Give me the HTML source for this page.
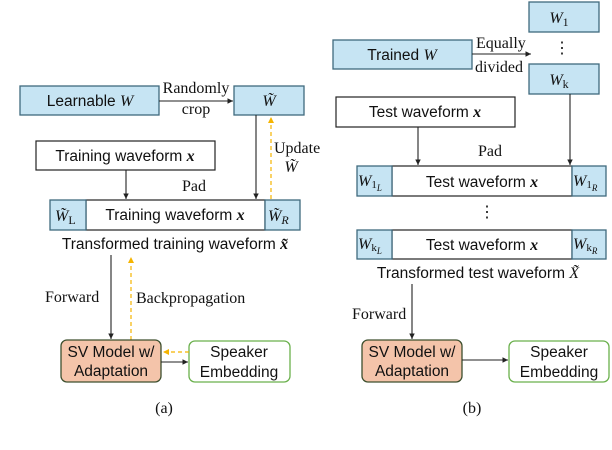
<!DOCTYPE html>
<html><head><meta charset="utf-8"><style>
html,body{margin:0;padding:0;background:#fff}
svg{display:block}
.s{font-family:"Liberation Sans",sans-serif;font-size:15.5px;fill:#111}
.r{font-family:"Liberation Serif",serif;font-size:16px;fill:#111}
.m{font-family:"Liberation Serif",serif;font-style:italic;font-size:16px;fill:#111}
.b{fill:#c6e4f3;stroke:#3f6a7e;stroke-width:1.3}
.w{fill:#fff;stroke:#222;stroke-width:1.2}
</style></head><body>
<svg width="612" height="450" viewBox="0 0 612 450" xmlns="http://www.w3.org/2000/svg">
<defs>
<marker id="a" markerWidth="6" markerHeight="6" refX="5" refY="3" orient="auto"><path d="M0,0.5 L5,3 L0,5.5z" fill="#222"/></marker>
<marker id="o" markerWidth="6" markerHeight="6" refX="5" refY="3" orient="auto"><path d="M0,0.5 L5,3 L0,5.5z" fill="#f5b400"/></marker>
</defs>
<!-- LEFT -->
<rect class="b" x="20" y="86" width="139" height="29"/>
<text class="s" x="90" y="106" text-anchor="middle">Learnable <tspan class="m">W</tspan></text>
<rect class="b" x="234" y="86" width="70" height="29"/>
<text class="m" x="269" y="106" text-anchor="middle">W̃</text>
<line x1="159" y1="101" x2="233" y2="101" stroke="#222" stroke-width="1.1" marker-end="url(#a)"/>
<text class="r" x="196" y="93" text-anchor="middle">Randomly</text>
<text class="r" x="196" y="114" text-anchor="middle">crop</text>
<rect class="w" x="36" y="141" width="179" height="29"/>
<text class="s" x="125" y="161" text-anchor="middle">Training waveform <tspan class="m" font-weight="bold">x</tspan></text>
<line x1="126" y1="170" x2="126" y2="199" stroke="#222" stroke-width="1.1" marker-end="url(#a)"/>
<line x1="256" y1="115" x2="256" y2="199" stroke="#222" stroke-width="1.1" marker-end="url(#a)"/>
<line x1="271" y1="199" x2="271" y2="117" stroke="#f5b400" stroke-width="1.2" stroke-dasharray="4,3" marker-end="url(#o)"/>
<text class="r" x="274" y="153">Update</text>
<text class="m" x="291" y="172" text-anchor="middle">W̃</text>
<text class="r" x="194" y="191" text-anchor="middle">Pad</text>
<rect class="w" x="86" y="200" width="179" height="30"/>
<rect class="b" x="50" y="200" width="36" height="30"/>
<rect class="b" x="265" y="200" width="35" height="30"/>
<text class="m" x="55" y="221">W̃<tspan font-style="normal" font-size="12" dy="3">L</tspan></text>
<text class="m" x="268" y="221">W̃<tspan font-size="12" dy="3">R</tspan></text>
<text class="s" x="175" y="220" text-anchor="middle">Training waveform <tspan class="m" font-weight="bold">x</tspan></text>
<text class="s" x="175" y="249" text-anchor="middle">Transformed training waveform <tspan class="m" font-weight="bold">x̃</tspan></text>
<line x1="111" y1="255" x2="111" y2="339" stroke="#222" stroke-width="1.1" marker-end="url(#a)"/>
<line x1="131" y1="340" x2="131" y2="257" stroke="#f5b400" stroke-width="1.2" stroke-dasharray="4,3" marker-end="url(#o)"/>
<text class="r" x="45" y="302">Forward</text>
<text class="r" x="136" y="303">Backpropagation</text>
<rect x="61" y="340" width="100" height="42" rx="6" fill="#f4c4aa" stroke="#3d4f2e" stroke-width="1.3"/>
<text class="s" x="111" y="357" text-anchor="middle">SV Model w/</text>
<text class="s" x="111" y="376" text-anchor="middle">Adaptation</text>
<rect x="189" y="341" width="101" height="41" rx="6" fill="#fff" stroke="#6ab04c" stroke-width="1.3"/>
<text class="s" x="239" y="357" text-anchor="middle" font-size="16.5">Speaker</text>
<text class="s" x="239" y="377" text-anchor="middle" font-size="16.5">Embedding</text>
<line x1="189" y1="352" x2="163" y2="352" stroke="#f5b400" stroke-width="1.2" stroke-dasharray="4,3" marker-end="url(#o)"/>
<line x1="161" y1="362" x2="188" y2="362" stroke="#222" stroke-width="1.1" marker-end="url(#a)"/>
<text class="r" x="164" y="413" text-anchor="middle">(a)</text>
<!-- RIGHT -->
<rect class="b" x="529" y="2" width="70" height="30"/>
<text class="m" x="559" y="23" text-anchor="middle">W<tspan font-style="normal" font-size="12" dy="3">1</tspan></text>
<text class="r" x="562" y="53" text-anchor="middle">⋮</text>
<rect class="b" x="529" y="64" width="70" height="30"/>
<text class="m" x="559" y="85" text-anchor="middle">W<tspan font-style="normal" font-size="12" dy="3">k</tspan></text>
<rect class="b" x="333" y="40" width="139" height="29"/>
<text class="s" x="402" y="60" text-anchor="middle">Trained <tspan class="m">W</tspan></text>
<line x1="472" y1="54" x2="531" y2="54" stroke="#222" stroke-width="1.1" marker-end="url(#a)"/>
<text class="r" x="476" y="48">Equally</text>
<text class="r" x="475" y="72">divided</text>
<rect class="w" x="336" y="97" width="179" height="30"/>
<text class="s" x="425" y="117" text-anchor="middle">Test waveform <tspan class="m" font-weight="bold">x</tspan></text>
<line x1="418" y1="127" x2="418" y2="165" stroke="#222" stroke-width="1.1" marker-end="url(#a)"/>
<line x1="570" y1="94" x2="570" y2="165" stroke="#222" stroke-width="1.1" marker-end="url(#a)"/>
<text class="r" x="490" y="156" text-anchor="middle">Pad</text>
<rect class="w" x="392" y="166" width="180" height="30"/>
<rect class="b" x="357" y="166" width="35" height="30"/>
<rect class="b" x="572" y="166" width="34" height="30"/>
<text class="m" x="358" y="186">W<tspan font-style="normal" font-size="11" dy="2">1</tspan><tspan font-size="9" dy="3">L</tspan></text>
<text class="m" x="573" y="186">W<tspan font-style="normal" font-size="11" dy="2">1</tspan><tspan font-size="9" dy="3">R</tspan></text>
<text class="s" x="482" y="187" text-anchor="middle">Test waveform <tspan class="m" font-weight="bold">x</tspan></text>
<text class="r" x="487" y="217" text-anchor="middle">⋮</text>
<rect class="w" x="392" y="230" width="180" height="29"/>
<rect class="b" x="357" y="230" width="35" height="29"/>
<rect class="b" x="572" y="230" width="34" height="29"/>
<text class="m" x="358" y="249">W<tspan font-style="normal" font-size="11" dy="2">k</tspan><tspan font-size="9" dy="3">L</tspan></text>
<text class="m" x="573" y="249">W<tspan font-style="normal" font-size="11" dy="2">k</tspan><tspan font-size="9" dy="3">R</tspan></text>
<text class="s" x="482" y="250" text-anchor="middle">Test waveform <tspan class="m" font-weight="bold">x</tspan></text>
<text class="s" x="478" y="278" text-anchor="middle">Transformed test waveform <tspan class="m">X̃</tspan></text>
<line x1="412" y1="284" x2="412" y2="339" stroke="#222" stroke-width="1.1" marker-end="url(#a)"/>
<text class="r" x="352" y="319">Forward</text>
<rect x="362" y="340" width="100" height="42" rx="6" fill="#f4c4aa" stroke="#3d4f2e" stroke-width="1.3"/>
<text class="s" x="412" y="357" text-anchor="middle">SV Model w/</text>
<text class="s" x="412" y="376" text-anchor="middle">Adaptation</text>
<rect x="509" y="341" width="100" height="41" rx="6" fill="#fff" stroke="#6ab04c" stroke-width="1.3"/>
<text class="s" x="559" y="357" text-anchor="middle" font-size="16.5">Speaker</text>
<text class="s" x="559" y="377" text-anchor="middle" font-size="16.5">Embedding</text>
<line x1="462" y1="360" x2="508" y2="360" stroke="#222" stroke-width="1.1" marker-end="url(#a)"/>
<text class="r" x="472" y="413" text-anchor="middle">(b)</text>
</svg>
</body></html>
